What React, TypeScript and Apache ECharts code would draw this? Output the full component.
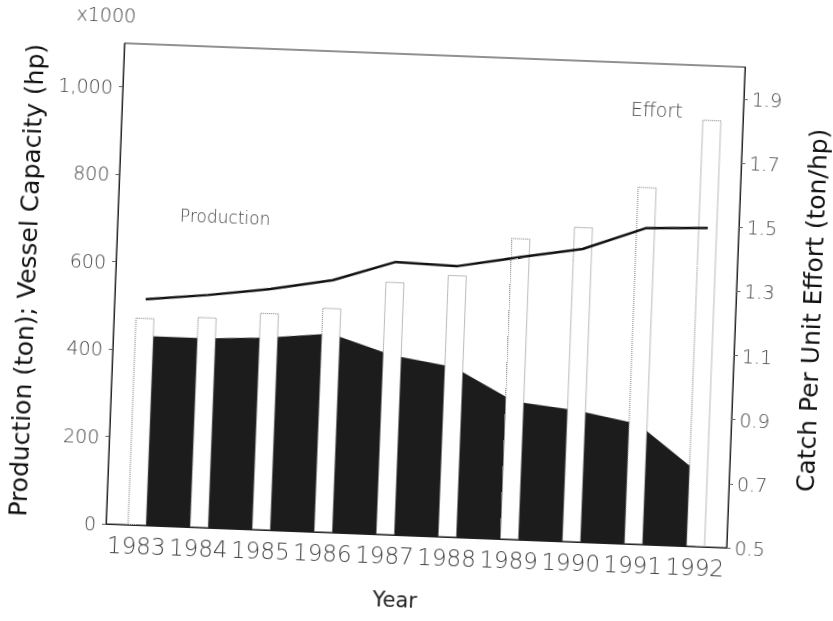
import React, { useEffect, useRef } from "react";
import * as echarts from "echarts";

const years = ["1983", "1984", "1985", "1986", "1987", "1988", "1989", "1990", "1991", "1992"];
const production = [517, 532, 551, 577, 624, 620, 646, 670, 723, 729];
const effort = [474, 481, 496, 513, 578, 599, 689, 720, 817, 976];
const cpue = [1.09, 1.09, 1.1, 1.12, 1.06, 1.03, 0.93, 0.91, 0.875, 0.73];
const leftTicks = [0, 200, 400, 600, 800, 1000];
const rightTicks = [0.5, 0.7, 0.9, 1.1, 1.3, 1.5, 1.7, 1.9];

const FONT = "DejaVu Sans";
const LABEL_COLOR = "#444";

export default function App() {
  const ref = useRef<HTMLDivElement>(null);
  useEffect(() => {
    if (!ref.current) return;
    const chart = echarts.init(ref.current, undefined, { renderer: "svg" });
    const last = effort.length - 1;
    chart.setOption({
      animation: false,
      backgroundColor: "#fff",
      grid: { left: 115, right: 95, top: 55, bottom: 85, show: true, borderColor: "#222", borderWidth: 1, backgroundColor: "transparent" },
      xAxis: {
        type: "category",
        data: years,
        boundaryGap: true,
        axisLine: { show: true, lineStyle: { color: "#222", width: 1 } },
        axisTick: { show: false },
        axisLabel: { interval: 0, fontSize: 23, margin: 9, color: LABEL_COLOR, fontFamily: FONT, fontWeight: 200 },
        name: "Year",
        nameLocation: "middle",
        nameGap: 54,
        nameTextStyle: { fontSize: 21, color: "#222", fontFamily: FONT, padding: [0, 38, 0, 0] },
      },
      yAxis: [
        {
          type: "value",
          position: "left",
          min: 0,
          max: 1100,
          axisLine: { show: true, lineStyle: { color: "#222", width: 1 } },
          axisTick: { show: true, length: 4, customValues: leftTicks, lineStyle: { color: "#666" } },
          axisLabel: {
            customValues: leftTicks,
            formatter: (v: number) => v.toLocaleString("en-US"),
            fontSize: 19,
            margin: 10,
            color: LABEL_COLOR,
            fontFamily: FONT,
            fontWeight: 200,
          },
          splitLine: { show: false },
          name: "Production (ton); Vessel Capacity (hp)",
          nameLocation: "middle",
          nameGap: 76,
          nameTextStyle: { fontSize: 25, color: "#111", fontFamily: FONT },
        },
        {
          type: "value",
          position: "right",
          min: 0.5,
          max: 2.0,
          axisLine: { show: true, lineStyle: { color: "#222", width: 1 } },
          axisTick: { show: true, length: 4, customValues: rightTicks, lineStyle: { color: "#666" } },
          axisLabel: {
            customValues: rightTicks,
            formatter: (v: number) => v.toFixed(1),
            fontSize: 19,
            margin: 8,
            color: LABEL_COLOR,
            fontFamily: FONT,
            fontWeight: 200,
          },
          splitLine: { show: false },
          name: "Catch Per Unit Effort (ton/hp)",
          nameLocation: "middle",
          nameRotate: 90,
          nameGap: 64,
          nameTextStyle: { fontSize: 25, color: "#111", fontFamily: FONT },
        },
      ],
      graphic: [
        { type: "text", left: 66, top: 17, style: { text: "x1000", fontSize: 19, fill: LABEL_COLOR, fontFamily: FONT, fontWeight: 200 } },
        { type: "text", left: 177, top: 216, style: { text: "Production", fontSize: 17, fill: LABEL_COLOR, fontFamily: FONT, fontWeight: 200 } },
      ],
      series: [
        {
          name: "CPUE",
          type: "line",
          yAxisIndex: 1,
          data: cpue,
          symbol: "none",
          lineStyle: { width: 0 },
          areaStyle: { color: "#1c1c1c", opacity: 1 },
          z: 1,
        },
        {
          name: "Effort",
          type: "bar",
          yAxisIndex: 0,
          barWidth: 19,
          data: effort.map((v, i) =>
            i === last
              ? { value: v, label: { show: true, formatter: "Effort", position: [-20, -8], align: "right", verticalAlign: "middle", fontSize: 19, color: LABEL_COLOR, fontFamily: FONT, fontWeight: 200 } }
              : v
          ),
          itemStyle: { color: "#fff", borderColor: "#777", borderWidth: 1, borderType: "dotted" },
          z: 2,
        },
        {
          name: "Production",
          type: "line",
          yAxisIndex: 0,
          data: production,
          symbol: "none",
          lineStyle: { color: "#111", width: 2.5 },
          z: 3,
        },
      ],
    });
    return () => chart.dispose();
  }, []);
  return (
    <div
      ref={ref}
      style={{
        position: "fixed",
        left: 0,
        top: 0,
        width: 833,
        height: 621,
        transform: "rotate(2.2deg)",
        transformOrigin: "426px 296px",
      }}
    />
  );
}
